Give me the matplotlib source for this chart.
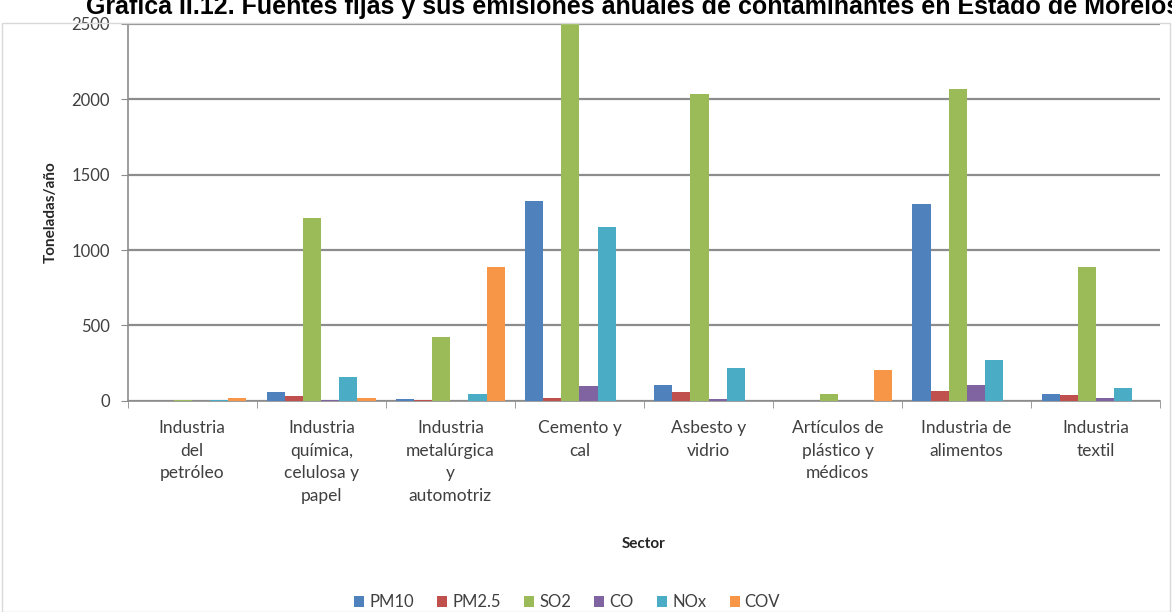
import numpy as np
import matplotlib
matplotlib.use("Agg")
import matplotlib.pyplot as plt
from matplotlib.patches import Rectangle

plt.rcParams["font.family"] = ["Lato", "DejaVu Sans"]

sectors = [
    "Industria\ndel\npetróleo",
    "Industria\nquímica,\ncelulosa y\npapel",
    "Industria\nmetalúrgica\ny\nautomotriz",
    "Cemento y\ncal",
    "Asbesto y\nvidrio",
    "Artículos de\nplástico y\nmédicos",
    "Industria de\nalimentos",
    "Industria\ntextil",
]
series = ["PM10", "PM2.5", "SO2", "CO", "NOx", "COV"]
pm10 = [0, 56, 13, 1325, 105, 0, 1307, 44]
pm25 = [0, 29, 8, 22, 62, 0, 66, 40]
so2 = [8, 1210, 425, 2500, 2038, 44, 2068, 887]
co = [2, 4, 2, 100, 12, 0, 102, 20]
nox = [3, 157, 46, 1150, 217, 0, 272, 88]
cov = [16, 18, 885, 0, 0, 204, 0, 0]
values = [pm10, pm25, so2, co, nox, cov]
colors = ["#4F81BD", "#C0504D", "#9BBB59", "#8064A2", "#4BACC6", "#F79646"]

fig = plt.figure(figsize=(11.72, 6.12), dpi=100)
ax = fig.add_axes([0.109, 0.345, 0.881, 0.616])

# chart frame
fig.patches.append(Rectangle((0.002, 0.0), 0.996, 0.962, transform=fig.transFigure,
                             fill=False, edgecolor="#d9d9d9", lw=1.0))

x = np.arange(len(sectors))
bw = 0.14
for i, (name, vals) in enumerate(zip(series, values)):
    ax.bar(x + (i - 2.5) * bw, vals, width=bw, color=colors[i], label=name, zorder=3)

ax.set_xlim(-0.5, len(sectors) - 0.5)
ax.set_ylim(0, 2500)
ax.set_yticks(range(0, 2501, 500))
ax.grid(axis="y", color="#8c8c8c", lw=1.6, zorder=0)
ax.set_xticks(x)
ax.set_xticklabels(sectors, fontsize=12.5, color="#404040", linespacing=1.5, va="top")
ax.tick_params(axis="x", length=0, pad=14)
ax.set_xticks(np.arange(-0.5, len(sectors)), minor=True)
ax.tick_params(axis="x", which="minor", length=5, color="#8c8c8c")
ax.tick_params(axis="y", length=5, color="#8c8c8c", labelsize=12, labelcolor="#404040", pad=8)
for s in ["top", "right"]:
    ax.spines[s].set_visible(False)
for s in ["left", "bottom"]:
    ax.spines[s].set_color("#8c8c8c")
    ax.spines[s].set_linewidth(1.2)

ax.set_ylabel("Toneladas/año", fontsize=11, fontweight="bold", color="#262626", labelpad=10)
ax.set_xlabel("Sector", fontsize=11, fontweight="bold", color="#262626", labelpad=24)

leg = fig.legend(loc="center", bbox_to_anchor=(0.484, 0.016), ncol=6, frameon=False,
                 fontsize=12, handlelength=0.6, handleheight=0.6, handletextpad=0.3,
                 columnspacing=1.4)
for t in leg.get_texts():
    t.set_color("#404040")

fig.text(0.073, 0.977, "Gráfica II.12. Fuentes fijas y sus emisiones anuales de contaminantes en Estado de Morelos",
         fontsize=18, fontweight="bold", family=["Liberation Sans", "DejaVu Sans"],
         ha="left", va="baseline")

fig.savefig("out.png", dpi=100)
